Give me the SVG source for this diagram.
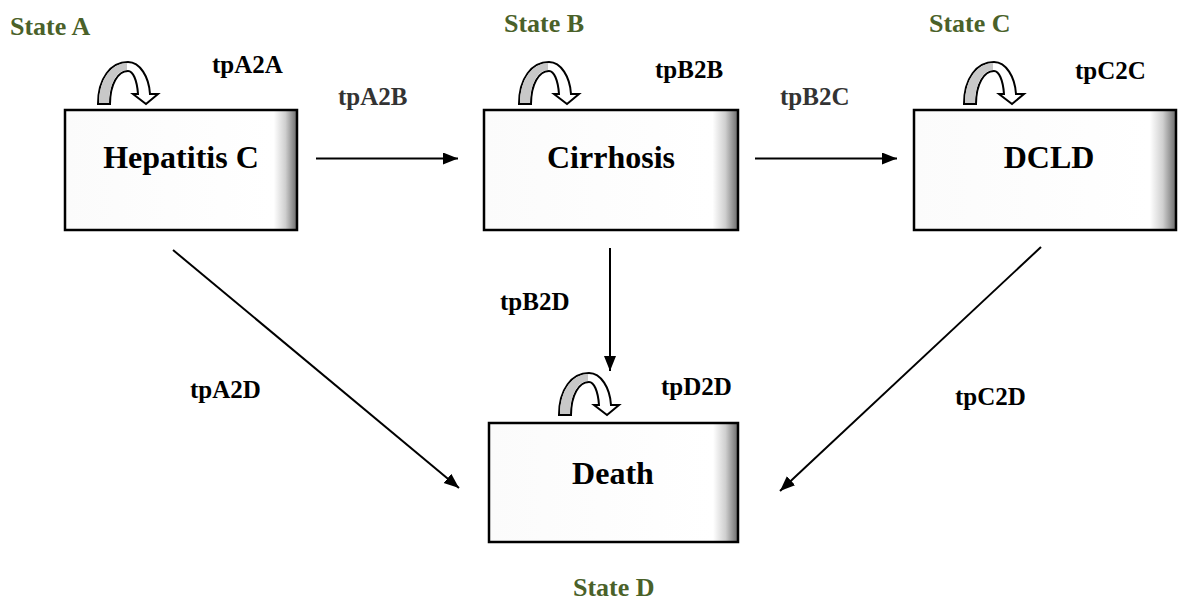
<svg xmlns="http://www.w3.org/2000/svg" xmlns:xlink="http://www.w3.org/1999/xlink" width="1179" height="605" viewBox="0 0 1179 605">
<style>
  .box { stroke: #000; stroke-width: 2.5; fill: url(#shade); }
  .name { font-family: "Liberation Serif", "Times New Roman", serif; font-weight: bold; font-size: 32px; fill: #000; text-anchor: middle; }
  .tp { font-family: "Liberation Serif", "Times New Roman", serif; font-weight: bold; font-size: 25px; fill: #000; }
  .tpg { fill: #333; }
  .state { font-family: "Liberation Serif", "Times New Roman", serif; font-weight: bold; font-size: 26px; fill: #4A6129; }
  .conn { stroke: #000; stroke-width: 2; fill: none; marker-end: url(#ah); }
  .lg { fill: #c8c8c8; stroke: none; }
  .lo { fill: #fff; stroke: #000; stroke-width: 2; stroke-linejoin: miter; }
</style>
<defs>
  <linearGradient id="shade" x1="0" y1="0" x2="1" y2="0">
    <stop offset="0" stop-color="#fbfbfb"/>
    <stop offset="0.9" stop-color="#ffffff"/>
    <stop offset="0.95" stop-color="#cfcfcf"/>
    <stop offset="1" stop-color="#6a6a6a"/>
  </linearGradient>
  <marker id="ah" markerUnits="userSpaceOnUse" markerWidth="16" markerHeight="13" refX="15" refY="6" orient="auto">
    <path d="M0,0 L15,6 L0,12 z" fill="#000"/>
  </marker>
  <g id="loop">
    <path class="lo" d="M0,0 C0,-26 13,-42 30,-42 C42,-42 51,-27 52,-10 L60,-10 L48,0 L35,-10 L40,-10 C39,-24 35,-33 30,-33 C20,-33 12,-20 12,0 Z"/>
    <path class="lg" d="M1,-1 C1,-25 14,-41 29,-41 L29,-34 C19,-34 11,-20 11,-1 Z"/>
  </g>
</defs>
<rect width="1179" height="605" fill="#fff"/>

<g id="connectors">
  <line class="conn" x1="316" y1="158.5" x2="458" y2="158.5"/>
  <line class="conn" x1="755" y1="158.5" x2="897" y2="158.5"/>
  <line class="conn" x1="610" y1="248" x2="610" y2="371"/>
  <line class="conn" x1="173" y1="250" x2="459" y2="488"/>
  <line class="conn" x1="1041" y1="247" x2="780" y2="491"/>
</g>

<g id="node-hepatitis">
  <rect class="box" x="65" y="110" width="232" height="120"/>
  <text class="name" x="181" y="168">Hepatitis C</text>
  <use xlink:href="#loop" x="98" y="104"/>
</g>
<g id="node-cirrhosis">
  <rect class="box" x="484" y="110" width="254" height="120"/>
  <text class="name" x="611" y="168">Cirrhosis</text>
  <use xlink:href="#loop" x="519" y="104"/>
</g>
<g id="node-dcld">
  <rect class="box" x="914" y="110" width="262" height="120"/>
  <text class="name" x="1049" y="168">DCLD</text>
  <use xlink:href="#loop" x="964" y="104"/>
</g>
<g id="node-death">
  <rect class="box" x="489" y="423" width="249" height="119"/>
  <text class="name" x="613" y="484">Death</text>
  <use xlink:href="#loop" x="559" y="415"/>
</g>

<g id="labels">
  <text class="state" x="10" y="35">State A</text>
  <text class="state" x="504" y="32">State B</text>
  <text class="state" x="929" y="32">State C</text>
  <text class="state" x="573" y="596">State D</text>
  <text class="tp" x="212" y="73">tpA2A</text>
  <text class="tp" x="655" y="78">tpB2B</text>
  <text class="tp" x="1075" y="79">tpC2C</text>
  <text class="tp tpg" x="338" y="105">tpA2B</text>
  <text class="tp tpg" x="780" y="105">tpB2C</text>
  <text class="tp" x="500" y="310">tpB2D</text>
  <text class="tp" x="190" y="398">tpA2D</text>
  <text class="tp" x="661" y="395">tpD2D</text>
  <text class="tp" x="955" y="405">tpC2D</text>
</g>
</svg>
